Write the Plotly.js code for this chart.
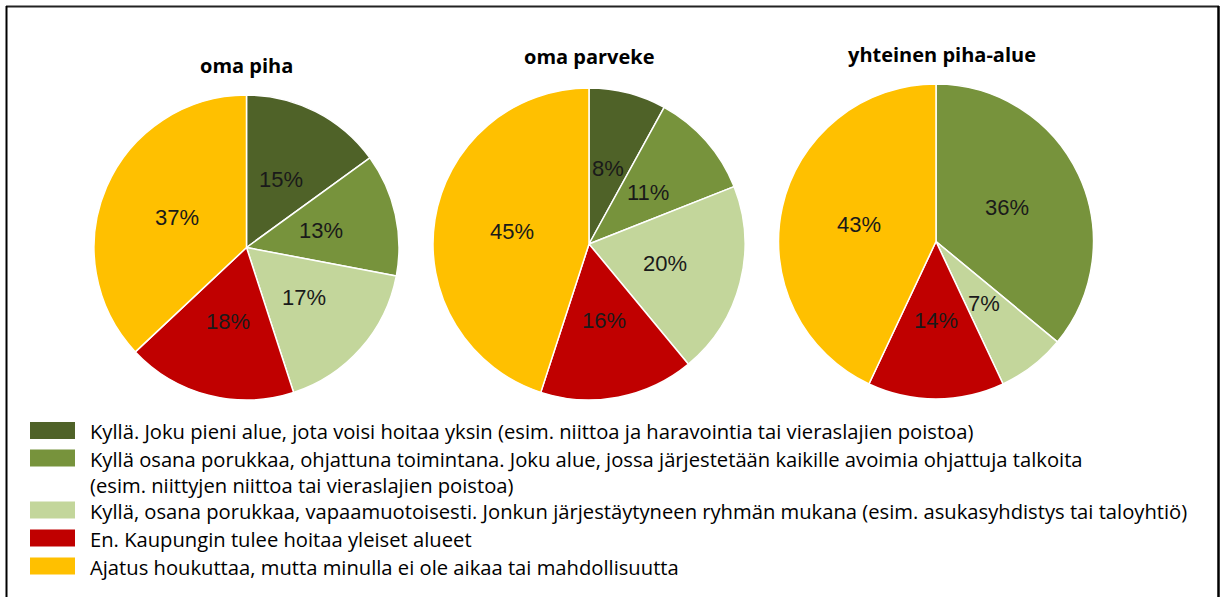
<!DOCTYPE html>
<html>
<head>
<meta charset="utf-8">
<script src="https://cdn.plot.ly/plotly-3.0.1.min.js"></script>
<style>html,body{margin:0;padding:0;background:#fff;}#chart{width:1220px;height:597px;}</style>
</head>
<body>
<div id="chart"></div>
<script>
const categories = [
  "Kyllä. Joku pieni alue, jota voisi hoitaa yksin (esim. niittoa ja haravointia tai vieraslajien poistoa)",
  "Kyllä osana porukkaa, ohjattuna toimintana. Joku alue, jossa järjestetään kaikille avoimia ohjattuja talkoita<br>(esim. niittyjen niittoa tai vieraslajien poistoa)",
  "Kyllä, osana porukkaa, vapaamuotoisesti. Jonkun järjestäytyneen ryhmän mukana (esim. asukasyhdistys tai taloyhtiö)",
  "En. Kaupungin tulee hoitaa yleiset alueet",
  "Ajatus houkuttaa, mutta minulla ei ole aikaa tai mahdollisuutta"
];
const pieTitles = ["oma piha", "oma parveke", "yhteinen piha-alue"];
const omaPiha = [15, 13, 17, 18, 37];
const omaParveke = [8, 11, 20, 16, 45];
const yhteinenPihaAlue = [0, 36, 7, 14, 43];
const colors = ["#4F6228", "#77933C", "#C3D69B", "#C00000", "#FFC000"];

const W = 1220, H = 597;
const px = x => x / W;
const py = y => 1 - y / H;

// pie geometry (pixels): center x, center y, radius, title y
const geom = [
  {cx: 246.5, cy: 247.5, r: 152.5, ty: 65},
  {cx: 589, cy: 244, r: 156, ty: 57},
  {cx: 936, cy: 241.5, r: 157.5, ty: 55}
];
const seriesList = [omaPiha, omaParveke, yhteinenPihaAlue];

const annotations = [];
const shapes = [];

const data = seriesList.map((vals, i) => {
  const g = geom[i];
  // percentage labels placed on the slice bisector at half the radius
  const total = vals.reduce((a, b) => a + b, 0);
  let cum = 0;
  vals.forEach(v => {
    const mid = (cum + v / 2) / total * 2 * Math.PI;
    cum += v;
    if (v <= 0) return;
    annotations.push({
      text: v + '%', xref: 'paper', yref: 'paper',
      x: px(g.cx + 0.5 * g.r * Math.sin(mid)), y: py(g.cy - 0.5 * g.r * Math.cos(mid)),
      xanchor: 'center', yanchor: 'middle', showarrow: false,
      font: {family: 'Liberation Sans, Arial, sans-serif', size: 22, color: '#1a1a1a'}
    });
  });
  return {
    type: 'pie',
    labels: categories,
    values: vals,
    textinfo: 'none',
    sort: false,
    direction: 'clockwise',
    rotation: 0,
    marker: {colors: colors, line: {color: '#ffffff', width: 1.5}},
    domain: {x: [px(g.cx - g.r), px(g.cx + g.r)], y: [py(g.cy + g.r), py(g.cy - g.r)]},
    showlegend: false,
    hoverinfo: 'label+percent'
  };
});

pieTitles.forEach((t, i) => {
  annotations.push({
    text: '<b>' + t + '</b>', xref: 'paper', yref: 'paper',
    x: px(i === 2 ? geom[i].cx + 6 : geom[i].cx), y: py(geom[i].ty),
    xanchor: 'center', yanchor: 'middle', showarrow: false,
    font: {family: 'Open Sans, sans-serif', size: 20, color: '#000'}
  });
});

// custom legend
const legendRows = [430.5, 458, 510, 538, 566];
categories.forEach((c, i) => {
  const yc = legendRows[i];
  shapes.push({
    type: 'rect', xref: 'paper', yref: 'paper',
    x0: px(30), x1: px(75), y0: py(yc - 8.5), y1: py(yc + 8.5),
    fillcolor: colors[i], line: {width: 0}
  });
  annotations.push({
    text: c, xref: 'paper', yref: 'paper',
    x: px(88), y: py(yc - 15.5), xanchor: 'left', yanchor: 'top', align: 'left',
    showarrow: false,
    font: {family: 'Open Sans, sans-serif', size: 20.2, color: '#000'}
  });
});

// frame
shapes.push({type: 'line', xref: 'paper', yref: 'paper', x0: px(6), x1: px(1219), y0: py(6.5), y1: py(6.5), line: {color: '#222', width: 2}});
shapes.push({type: 'line', xref: 'paper', yref: 'paper', x0: px(6.5), x1: px(6.5), y0: py(6), y1: py(600), line: {color: '#000', width: 2}});
shapes.push({type: 'line', xref: 'paper', yref: 'paper', x0: px(1218.5), x1: px(1218.5), y0: py(6), y1: py(600), line: {color: '#000', width: 2.5}});

const layout = {
  width: W, height: H,
  margin: {l: 0, r: 0, t: 0, b: 0},
  paper_bgcolor: '#fff',
  showlegend: false,
  annotations: annotations,
  shapes: shapes
};

Plotly.newPlot('chart', data, layout, {displayModeBar: false, staticPlot: true});
</script>
</body>
</html>
